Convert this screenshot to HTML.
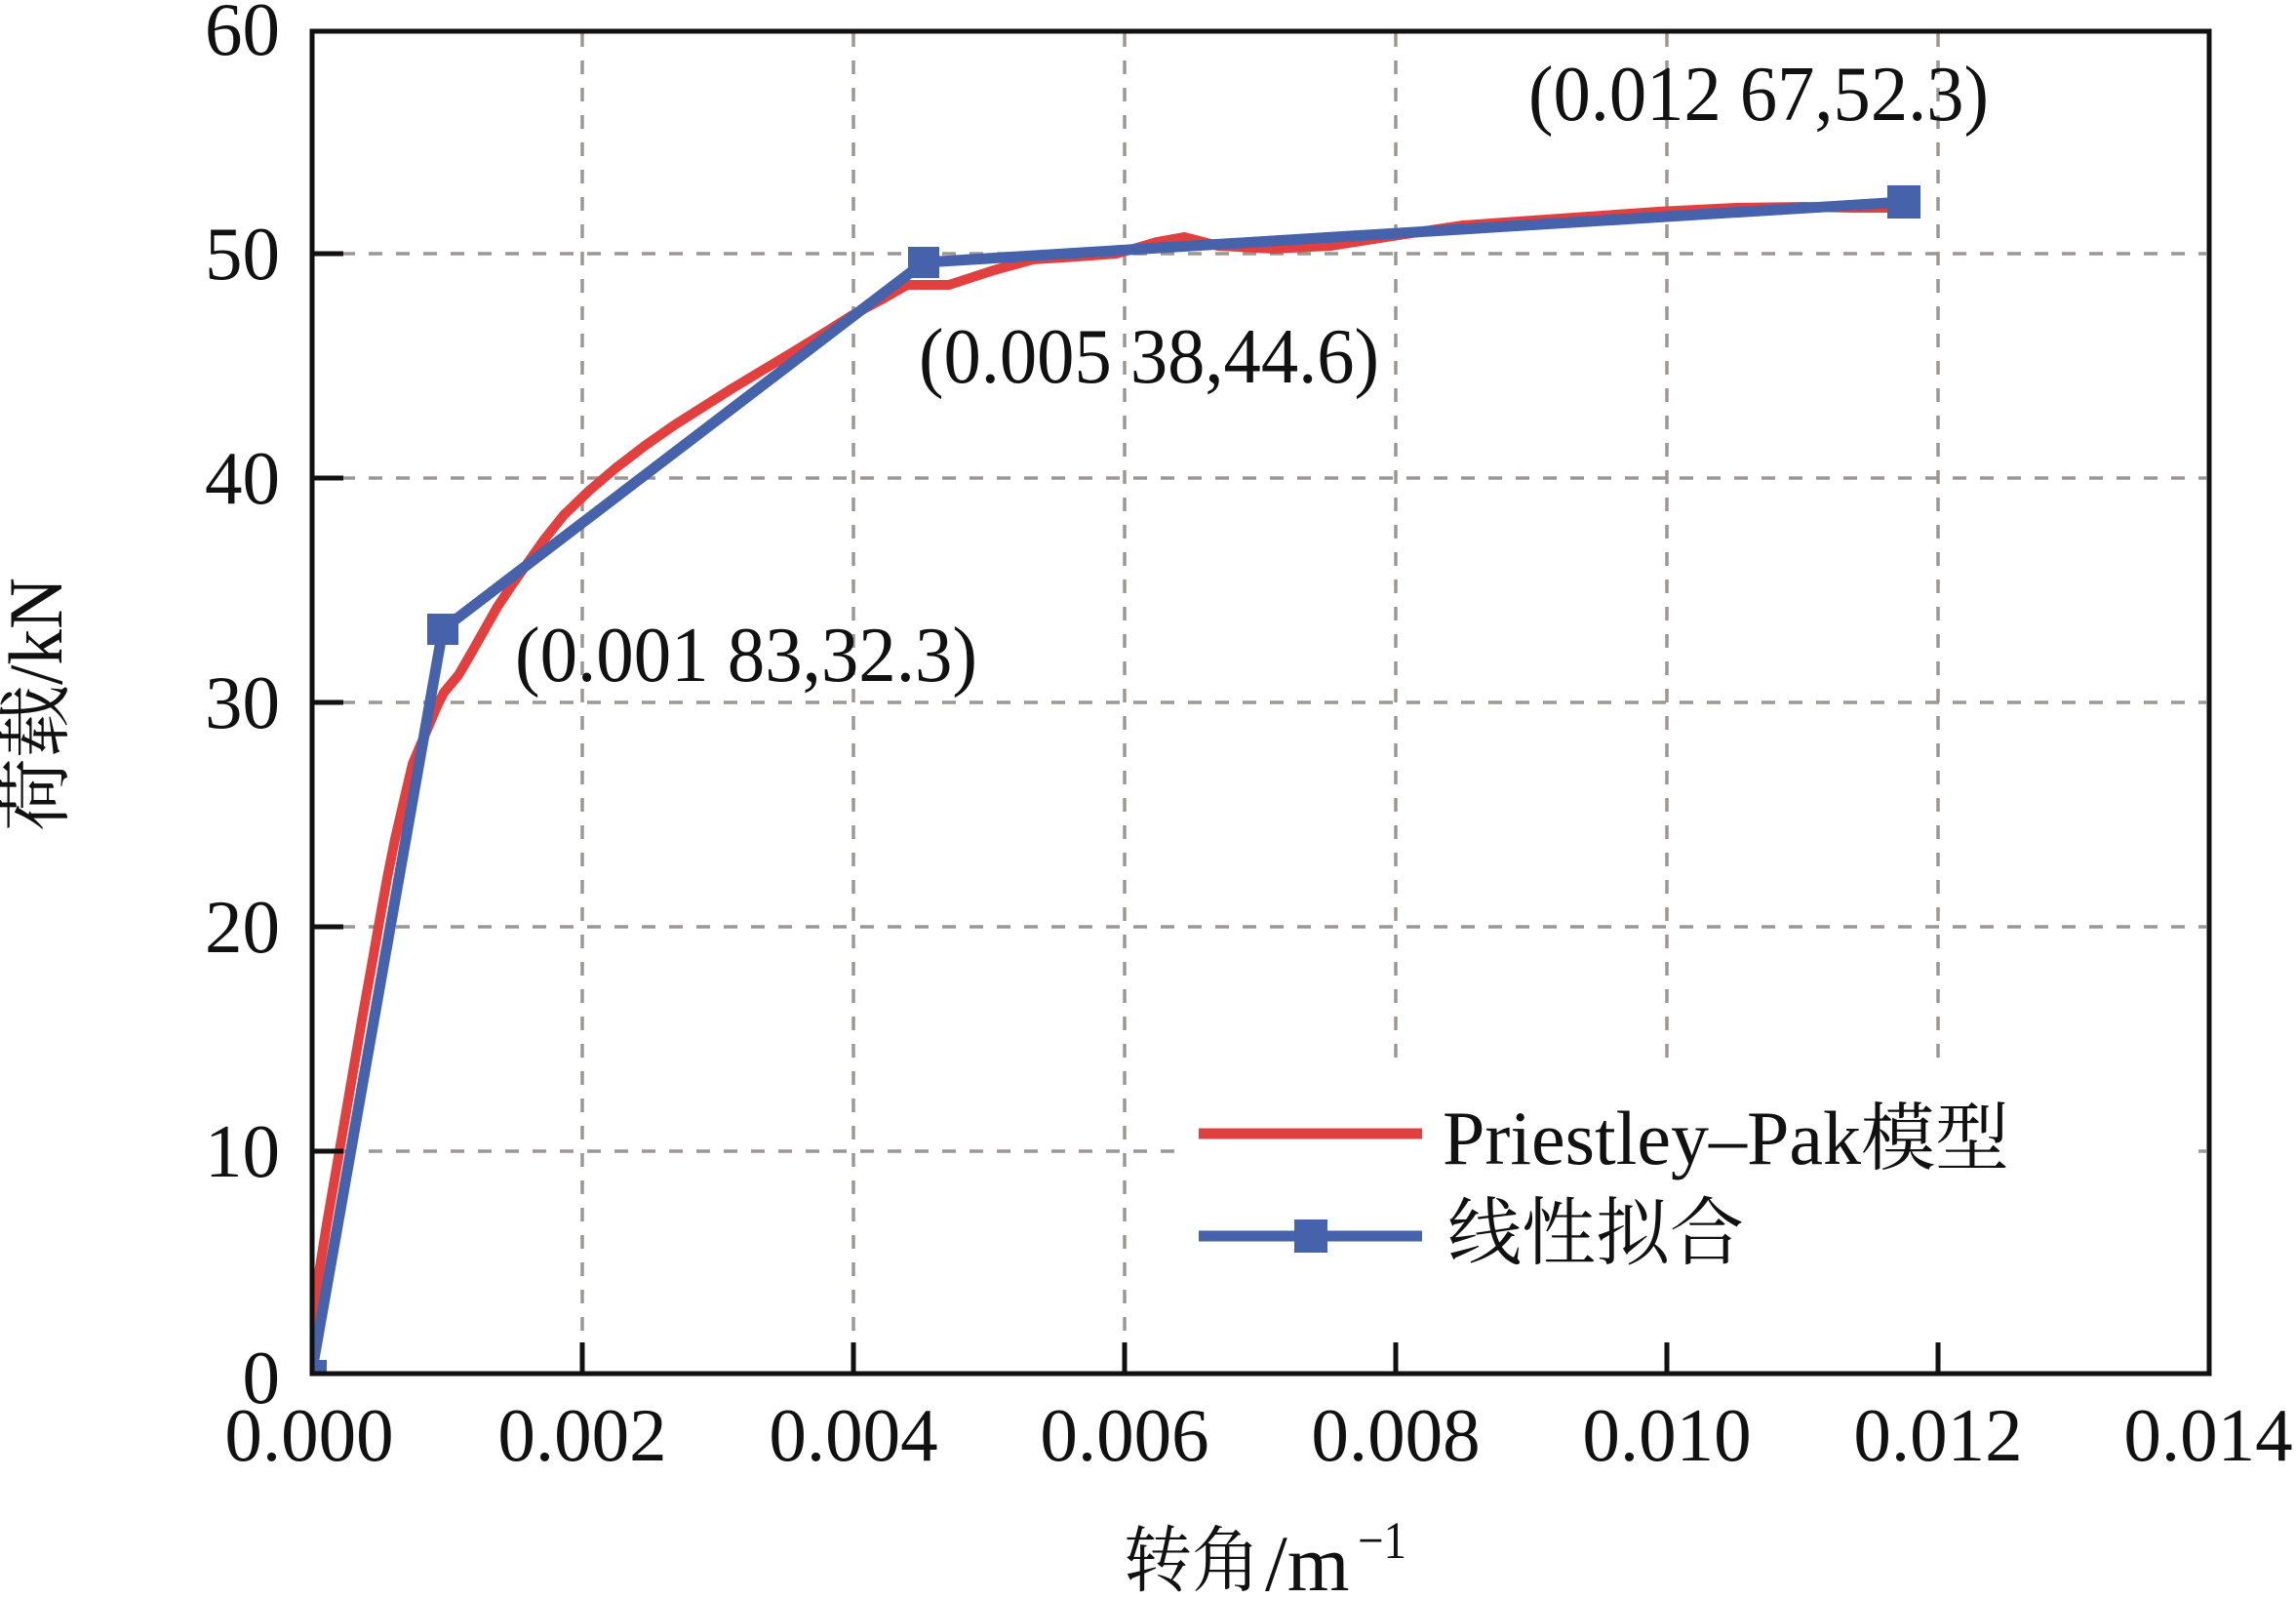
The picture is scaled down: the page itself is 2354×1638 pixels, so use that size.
<!DOCTYPE html>
<html>
<head>
<meta charset="utf-8">
<style>
html,body{margin:0;padding:0;background:#fff;}
svg{display:block;}
text{font-family:"Liberation Serif","Noto Serif CJK SC",serif;fill:#111;}
</style>
</head>
<body>
<svg width="2354" height="1638" viewBox="0 0 2354 1638" xmlns="http://www.w3.org/2000/svg">
<defs>
<clipPath id="plot"><rect x="320" y="32" width="1944" height="1376"/></clipPath>
</defs>
<rect x="0" y="0" width="2354" height="1638" fill="#fff"/>

<!-- grid -->
<g stroke="#9d9793" stroke-width="3.5" stroke-dasharray="14 14" fill="none">
<line x1="322" y1="260" x2="2262" y2="260"/>
<line x1="322" y1="490" x2="2262" y2="490"/>
<line x1="322" y1="720" x2="2262" y2="720"/>
<line x1="322" y1="950" x2="2262" y2="950"/>
<line x1="322" y1="1180" x2="2262" y2="1180"/>
<line x1="597" y1="34" x2="597" y2="1406"/>
<line x1="875" y1="34" x2="875" y2="1406"/>
<line x1="1153" y1="34" x2="1153" y2="1406"/>
<line x1="1431" y1="34" x2="1431" y2="1406"/>
<line x1="1709" y1="34" x2="1709" y2="1406"/>
<line x1="1987" y1="34" x2="1987" y2="1406"/>
</g>

<!-- legend background -->
<rect x="1212" y="1098" width="1030" height="270" fill="#fff"/>

<!-- series -->
<g clip-path="url(#plot)" fill="none" stroke-linejoin="round" stroke-linecap="round">
<path stroke="#e2403f" stroke-width="10" d="M319,1410 L323,1330 L335,1255 L348,1180 L360,1110 L372,1040 L381,990 L388,950 L397,900 L405,860 L415,817 L423,783 L437,750 L448,724 L455,710 L470,692 L484,668 L497,645 L510,622 L526,598 L541,577 L558,553 L578,528 L604,503 L631,480 L661,457 L691,436 L721,417 L751,398 L781,380 L811,362 L847,340 L874,323 L904,307 L930,292 L973,292 L1019,277 L1059,266 L1105,263 L1145,260 L1186,248 L1214,243 L1249,252 L1306,255 L1364,252 L1421,243 L1460,237 L1500,231 L1600,224 L1700,217 L1780,213 L1850,212 L1900,213 L1934,213"/>
<path stroke="#4662ab" stroke-width="11" d="M319,1410 L454,645 L947,269 L1952,207"/>
<g fill="#4662ab" stroke="none">
<rect x="303" y="1394" width="32" height="32"/>
<rect x="438" y="629" width="32" height="32"/>
<rect x="931" y="253" width="32" height="32"/>
<rect x="1935" y="190" width="34" height="34"/>
</g>
</g>

<!-- frame and ticks -->
<g stroke="#111" stroke-width="5" fill="none">
<rect x="320" y="32" width="1945" height="1376"/>
<line x1="320" y1="260" x2="352" y2="260"/>
<line x1="320" y1="490" x2="352" y2="490"/>
<line x1="320" y1="720" x2="352" y2="720"/>
<line x1="320" y1="950" x2="352" y2="950"/>
<line x1="320" y1="1180" x2="352" y2="1180"/>
<line x1="597" y1="1408" x2="597" y2="1376"/>
<line x1="875" y1="1408" x2="875" y2="1376"/>
<line x1="1153" y1="1408" x2="1153" y2="1376"/>
<line x1="1431" y1="1408" x2="1431" y2="1376"/>
<line x1="1709" y1="1408" x2="1709" y2="1376"/>
<line x1="1987" y1="1408" x2="1987" y2="1376"/>
</g>

<!-- y tick labels -->
<g font-size="77" text-anchor="end">
<text x="287" y="56">60</text>
<text x="287" y="286">50</text>
<text x="287" y="516">40</text>
<text x="287" y="746">30</text>
<text x="287" y="976">20</text>
<text x="287" y="1206">10</text>
<text x="287" y="1438">0</text>
</g>

<!-- x tick labels -->
<g font-size="77" text-anchor="middle">
<text x="317" y="1497">0.000</text>
<text x="597" y="1497">0.002</text>
<text x="875" y="1497">0.004</text>
<text x="1153" y="1497">0.006</text>
<text x="1431" y="1497">0.008</text>
<text x="1709" y="1497">0.010</text>
<text x="1987" y="1497">0.012</text>
<text x="2264" y="1497">0.014</text>
</g>

<!-- annotations -->
<g font-size="80">
<text x="1567" y="123" textLength="472" lengthAdjust="spacingAndGlyphs">(0.012 67,52.3)</text>
<text x="942" y="392" textLength="472" lengthAdjust="spacingAndGlyphs">(0.005 38,44.6)</text>
<text x="528" y="698" textLength="474" lengthAdjust="spacingAndGlyphs">(0.001 83,32.3)</text>
</g>

<!-- legend -->
<line x1="1229" y1="1162" x2="1458" y2="1162" stroke="#e2403f" stroke-width="11"/>
<line x1="1229" y1="1267" x2="1458" y2="1267" stroke="#4662ab" stroke-width="11"/>
<rect x="1327" y="1250" width="34" height="34" fill="#4662ab"/>
<text x="1479" y="1193" font-size="78">Priestley–Pak<tspan font-size="76">模型</tspan></text>
<text x="1484" y="1290" font-size="76" textLength="304" lengthAdjust="spacingAndGlyphs">线性拟合</text>

<!-- x axis title -->
<text x="1152" y="1625" font-size="74" textLength="140" lengthAdjust="spacingAndGlyphs">转角</text>
<text x="1297" y="1630" font-size="82">/m</text>
<text x="1392" y="1597" font-size="54" textLength="50" lengthAdjust="spacingAndGlyphs">−1</text>

<!-- y axis title -->
<g transform="translate(63,852) rotate(-90)">
<text x="0" y="0" font-size="76" textLength="150" lengthAdjust="spacingAndGlyphs">荷载</text>
<text x="150" y="0" font-size="78" textLength="110" lengthAdjust="spacingAndGlyphs">/kN</text>
</g>
</svg>
</body>
</html>
